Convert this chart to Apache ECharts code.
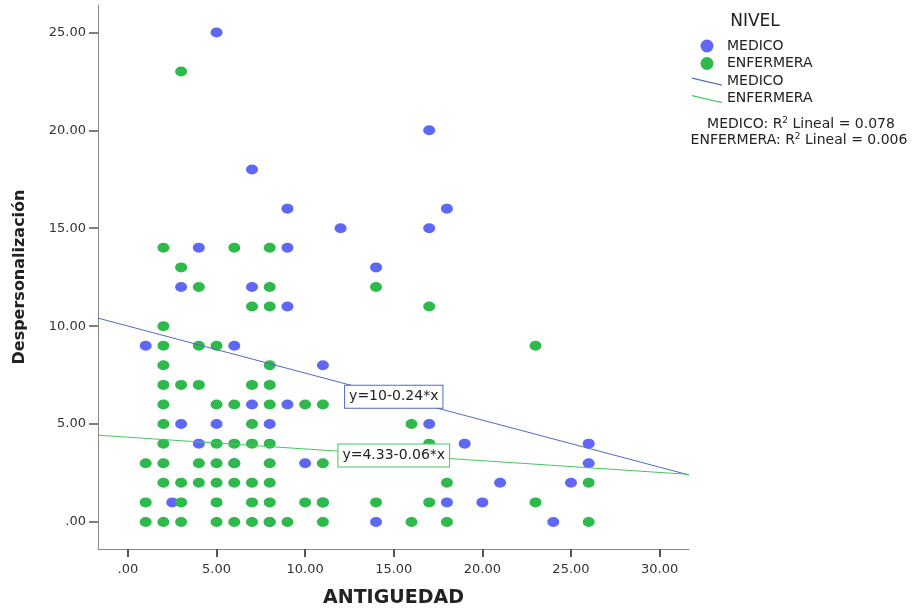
<!DOCTYPE html>
<html>
<head>
<meta charset="utf-8">
<title>Despersonalización - ANTIGUEDAD</title>
<script src="https://cdn.jsdelivr.net/npm/echarts@6.0.0/dist/echarts.min.js"></script>
<style>
html,body{margin:0;padding:0;background:#fff;}
#main{width:916px;height:611px;}
</style>
</head>
<body>
<div id="main"></div>
<script>
// puntos [ANTIGUEDAD, Despersonalizacion]
var medico = [
	[5,25],[7,18],[9,16],[12,15],[4,14],[9,14],[14,13],[3,12],[7,12],[9,11],
	[1,9],[6,9],[11,8],[17,20],[18,16],[17,15],[7,6],[9,6],[3,5],[5,5],[8,5],
	[4,4],[10,3],[2.5,1],[14,0],[17,5],[19,4],[26,4],[26,3],[21,2],[25,2],
	[18,1],[20,1],[24,0],[6,3],[11,1],[8,0]
];
var enfermera = [
	[3,23],[2,14],[6,14],[8,14],[3,13],[4,12],[8,12],[14,12],[7,11],[8,11],[17,11],
	[2,10],[2,9],[4,9],[5,9],[23,9],[2,8],[8,8],
	[2,7],[3,7],[4,7],[7,7],[8,7],
	[2,6],[5,6],[6,6],[8,6],[10,6],[11,6],
	[2,5],[7,5],[16,5],
	[2,4],[5,4],[6,4],[7,4],[8,4],[17,4],
	[1,3],[2,3],[4,3],[5,3],[6,3],[8,3],[11,3],
	[2,2],[3,2],[4,2],[5,2],[6,2],[7,2],[8,2],[18,2],[26,2],
	[1,1],[3,1],[5,1],[7,1],[8,1],[10,1],[11,1],[14,1],[17,1],[23,1],
	[1,0],[2,0],[3,0],[5,0],[6,0],[7,0],[8,0],[9,0],[11,0],[16,0],[18,0],[26,0]
];
// rectas de ajuste lineal (extremos)
var medicoFit = [[-1.69,10.41],[31.66,2.40]];
var enfermeraFit = [[-1.69,4.43],[31.66,2.43]];
var medicoEq = 'y=10-0.24*x';
var enfermeraEq = 'y=4.33-0.06*x';
var medicoEqAt = [15, 6.4];
var enfermeraEqAt = [15, 3.4];
var r2Medico = '0.078';
var r2Enfermera = '0.006';
var xTicks = [0,5,10,15,20,25,30];
var yTicks = [0,5,10,15,20,25];

var FONT = 'DejaVu Sans';
var azul = '#5f67f7', verde = '#2fb94c';
var azulLinea = '#5269c4', verdeLinea = '#46c75f';
// icono de recta inclinada para la leyenda (30x13)
var lineIcon = 'path://M0,0L0.01,0Z M0,3L30,10L30,11.3L0,4.3Z M30,13L30.01,13Z';

function fmt(v){
	return v === 0 ? '.00' : v.toFixed(2);
}

function eqLabel(text, color){
	return {
		show: true, position: 'inside', formatter: text,
		backgroundColor: '#fff', borderColor: color, borderWidth: 1,
		padding: [4,4,4,4], fontFamily: FONT, fontSize: 14, color: '#222'
	};
}

function r2Text(x, y, grupo, valor){
	return {type: 'text', x: x, y: y, style: {
		text: '{a|' + grupo + ': R}{s|2}{a| Lineal = ' + valor + '}',
		align: 'center', verticalAlign: 'middle',
		rich: {
			a: {fontFamily: FONT, fontSize: 14, fill: '#222', lineHeight: 16},
			s: {fontFamily: FONT, fontSize: 9, fill: '#222', verticalAlign: 'top', lineHeight: 16}
		}
	}};
}

var chart = echarts.init(document.getElementById('main'));
var option = {
	animation: false,
	backgroundColor: '#fff',
	grid: {left: 98, right: 227, top: 5, bottom: 62, outerBoundsMode: 'none'},
	legend: {
		orient: 'vertical', left: 692, top: 39, padding: 0,
		itemWidth: 30, itemHeight: 13, itemGap: 3.5,
		selectedMode: false,
		textStyle: {fontFamily: FONT, fontSize: 14, color: '#222'},
		data: [
			{name: 'MEDICO', icon: 'circle'},
			{name: 'ENFERMERA', icon: 'circle'},
			{name: 'MEDICO ', icon: lineIcon},
			{name: 'ENFERMERA ', icon: lineIcon}
		]
	},
	graphic: [
		{type: 'text', x: 755, y: 22, style: {text: 'NIVEL', font: '17px "DejaVu Sans"', fill: '#222', align: 'center', verticalAlign: 'middle'}},
		r2Text(801, 124, 'MEDICO', r2Medico),
		r2Text(799, 140, 'ENFERMERA', r2Enfermera)
	],
	xAxis: {
		type: 'value', min: -1.69, max: 31.66,
		name: 'ANTIGUEDAD', nameLocation: 'middle', nameGap: 40,
		nameTextStyle: {fontFamily: FONT, fontSize: 19, fontWeight: 'bold', color: '#222'},
		axisLine: {show: true, onZero: false, lineStyle: {color: '#888', width: 1}},
		axisTick: {show: true, length: 8, customValues: xTicks, lineStyle: {color: '#555', width: 2}},
		axisLabel: {customValues: xTicks, margin: 14, formatter: fmt, fontFamily: FONT, fontSize: 13, color: '#333'},
		splitLine: {show: false}
	},
	yAxis: {
		type: 'value', min: -1.38, max: 26.4,
		name: 'Despersonalización', nameLocation: 'middle', nameGap: 70,
		nameTextStyle: {fontFamily: FONT, fontSize: 16, fontWeight: 'bold', color: '#222'},
		axisLine: {show: true, onZero: false, lineStyle: {color: '#888', width: 1}},
		axisTick: {show: true, length: 9, customValues: yTicks, lineStyle: {color: '#555', width: 1.5}},
		axisLabel: {customValues: yTicks, margin: 12, formatter: fmt, fontFamily: FONT, fontSize: 13, color: '#333'},
		splitLine: {show: false}
	},
	series: [
		{
			name: 'MEDICO', type: 'scatter', data: medico,
			symbol: 'circle', symbolSize: [12,10],
			itemStyle: {color: azul, opacity: 1}
		},
		{
			name: 'ENFERMERA', type: 'scatter', data: enfermera,
			symbol: 'circle', symbolSize: [12,10],
			itemStyle: {color: verde, opacity: 1}
		},
		{
			name: 'MEDICO ', type: 'line', data: medicoFit,
			symbol: 'none', color: azulLinea,
			lineStyle: {color: azulLinea, width: 1},
			itemStyle: {color: azulLinea},
			markPoint: {
				symbol: 'rect', symbolSize: 1, itemStyle: {color: 'rgba(0,0,0,0)'},
				label: eqLabel(medicoEq, azulLinea),
				data: [{coord: medicoEqAt}]
			}
		},
		{
			name: 'ENFERMERA ', type: 'line', data: enfermeraFit,
			symbol: 'none', color: verdeLinea,
			lineStyle: {color: verdeLinea, width: 1},
			itemStyle: {color: verdeLinea},
			markPoint: {
				symbol: 'rect', symbolSize: 1, itemStyle: {color: 'rgba(0,0,0,0)'},
				label: eqLabel(enfermeraEq, verdeLinea),
				data: [{coord: enfermeraEqAt}]
			}
		}
	]
};
chart.setOption(option);
</script>
</body>
</html>
